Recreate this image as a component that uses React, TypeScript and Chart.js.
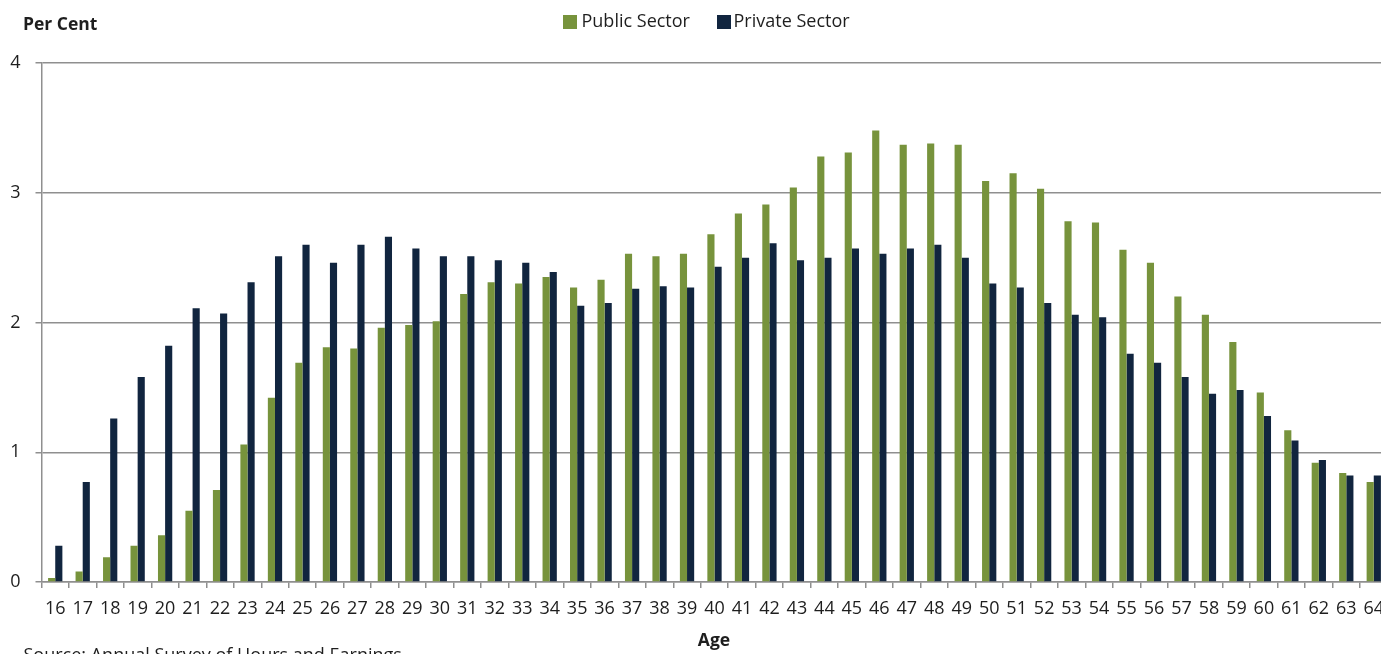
import React, { useEffect, useRef } from "react";
import { Chart, registerables } from "chart.js";

Chart.register(...registerables);

const ages: string[] = [
  "16", "17", "18", "19", "20", "21", "22", "23", "24", "25", "26", "27", "28", "29", "30",
  "31", "32", "33", "34", "35", "36", "37", "38", "39", "40", "41", "42", "43", "44", "45",
  "46", "47", "48", "49", "50", "51", "52", "53", "54", "55", "56", "57", "58", "59", "60",
  "61", "62", "63", "64",
];

const publicSector: number[] = [
  0.03, 0.08, 0.19, 0.28, 0.36, 0.55, 0.71, 1.06, 1.42, 1.69, 1.81, 1.8, 1.96, 1.98, 2.01,
  2.22, 2.31, 2.3, 2.35, 2.27, 2.33, 2.53, 2.51, 2.53, 2.68, 2.84, 2.91, 3.04, 3.28, 3.31,
  3.48, 3.37, 3.38, 3.37, 3.09, 3.15, 3.03, 2.78, 2.77, 2.56, 2.46, 2.2, 2.06, 1.85, 1.46,
  1.17, 0.92, 0.84, 0.77,
];

const privateSector: number[] = [
  0.28, 0.77, 1.26, 1.58, 1.82, 2.11, 2.07, 2.31, 2.51, 2.6, 2.46, 2.6, 2.66, 2.57, 2.51,
  2.51, 2.48, 2.46, 2.39, 2.13, 2.15, 2.26, 2.28, 2.27, 2.43, 2.5, 2.61, 2.48, 2.5, 2.57,
  2.53, 2.57, 2.6, 2.5, 2.3, 2.27, 2.15, 2.06, 2.04, 1.76, 1.69, 1.58, 1.45, 1.48, 1.28,
  1.09, 0.94, 0.82, 0.82,
];

const yTickValues: number[] = [0, 1, 2, 3, 4];

const seriesNames = ["Public Sector", "Private Sector"];
const seriesColors = ["#77933C", "#11253F"];

const FONT = "'Open Sans', 'Liberation Sans', sans-serif";
const TEXT = "#1e1e1e";
const GRID = "#8f8f8f";

export default function App() {
  const ref = useRef<HTMLCanvasElement>(null);

  useEffect(() => {
    if (!ref.current) return;
    const chart = new Chart(ref.current, {
      type: "bar",
      data: {
        labels: ages,
        datasets: [
          { label: seriesNames[0], data: publicSector, backgroundColor: seriesColors[0], borderWidth: 0 },
          { label: seriesNames[1], data: privateSector, backgroundColor: seriesColors[1], borderWidth: 0 },
        ],
      },
      options: {
        animation: false,
        responsive: false,
        maintainAspectRatio: false,
        layout: { padding: { top: 63, left: 0, right: 12.5, bottom: 32 } },
        datasets: { bar: { categoryPercentage: 0.52, barPercentage: 1 } } as any,
        plugins: {
          legend: { display: false },
          tooltip: { enabled: false },
          title: { display: false },
        },
        scales: {
          x: {
            grid: { drawOnChartArea: false, drawTicks: true, tickLength: 6, color: GRID, lineWidth: 1.5, offset: true },
            border: { color: GRID, width: 1.5 },
            ticks: { color: TEXT, font: { family: FONT, size: 18 }, padding: 10, maxRotation: 0, autoSkip: false },
            afterFit: (s: any) => { s.height = 40; },
          },
          y: {
            min: 0,
            max: 4,
            afterBuildTicks: (s: any) => { s.ticks = yTickValues.map((v) => ({ value: v })); },
            grid: { color: GRID, lineWidth: 1.5, tickLength: 6 },
            border: { color: GRID, width: 1.5 },
            ticks: { color: TEXT, font: { family: FONT, size: 18 }, padding: 15 },
            afterFit: (s: any) => { s.width = 41.5; },
          },
        },
      },
    });
    return () => chart.destroy();
  }, []);

  const txt: React.CSSProperties = {
    position: "absolute",
    fontFamily: FONT,
    fontSize: 18,
    lineHeight: "23px",
    color: TEXT,
    whiteSpace: "nowrap",
  };

  return (
    <div style={{ position: "fixed", left: 0, top: 0, width: 1381, height: 654, overflow: "hidden", background: "#fff" }}>
      <canvas ref={ref} width={1400} height={654} style={{ position: "absolute", left: 0, top: 0, width: 1400, height: 654 }} />
      <div style={{ ...txt, left: 23, top: 12, fontSize: 17.5, fontWeight: 700 }}>Per Cent</div>
      <div style={{ position: "absolute", left: 563, top: 15, width: 14, height: 14, background: seriesColors[0] }} />
      <div style={{ ...txt, left: 581.5, top: 9 }}>{seriesNames[0]}</div>
      <div style={{ position: "absolute", left: 717, top: 15, width: 14, height: 14, background: seriesColors[1] }} />
      <div style={{ ...txt, left: 733.5, top: 9 }}>{seriesNames[1]}</div>
      <div style={{ ...txt, left: 0, width: 1428, textAlign: "center", top: 628, fontSize: 17.5, fontWeight: 700 }}>Age</div>
      <div style={{ ...txt, left: 23.5, top: 643 }}>Source: Annual Survey of Hours and Earnings</div>
    </div>
  );
}
